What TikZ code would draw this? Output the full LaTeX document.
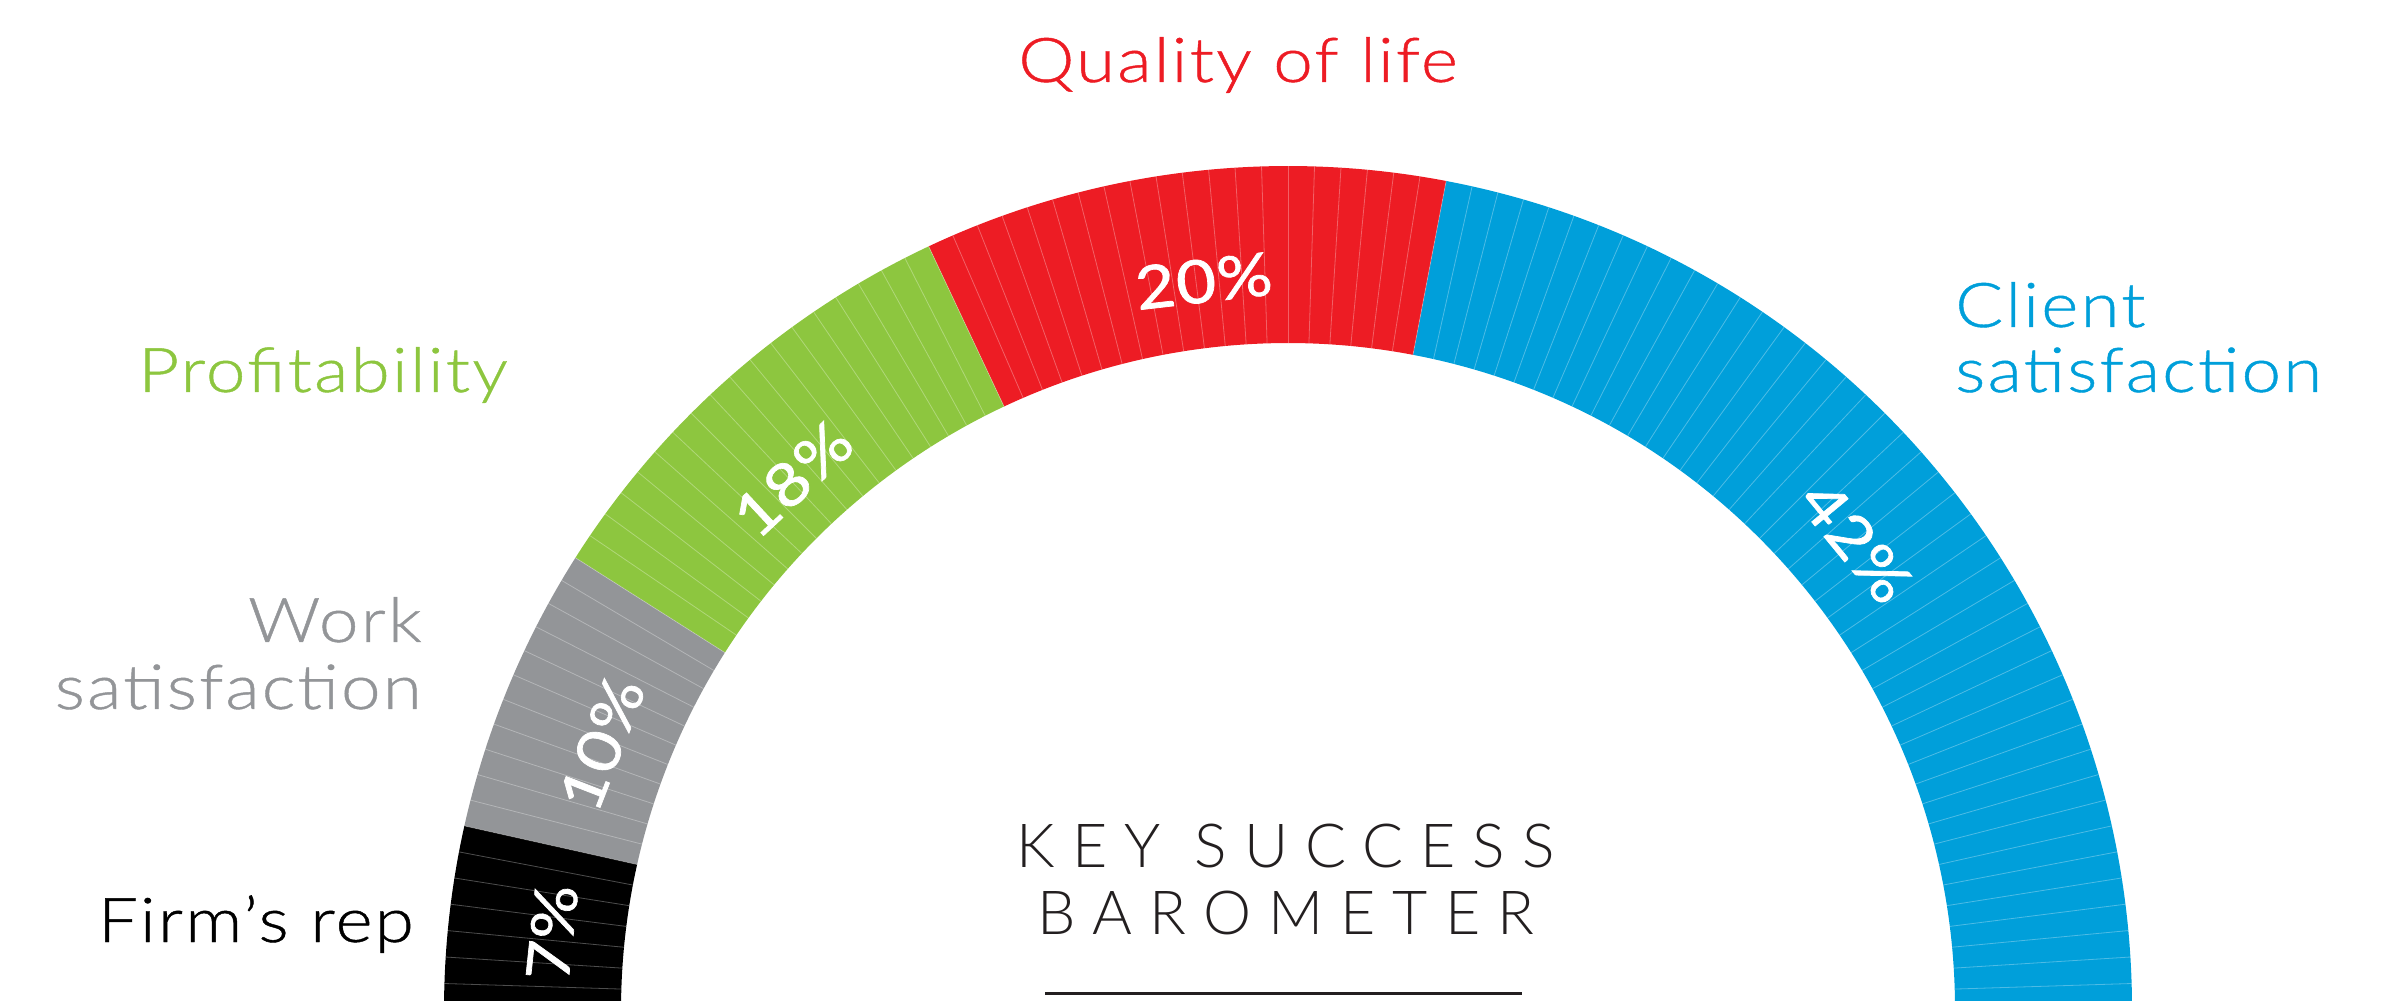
\documentclass[tikz,border=0pt]{standalone}
\usepackage{fontspec}
\setmainfont{Lato}
\newfontfamily\titlefont{Lato Light}[LetterSpace=28]
\newfontfamily\labelfont{Lato Light}[FakeStretch=1.15,LetterSpace=3.5,FakeBold=0.7]
\newfontfamily\pctfont{Lato}[FakeStretch=1.15,LetterSpace=2,FakeBold=1.2]
\definecolor{cblue}{RGB}{0,159,218}
\definecolor{cred}{RGB}{237,28,36}
\definecolor{cgreen}{RGB}{141,198,63}
\definecolor{cgray}{RGB}{147,149,152}
\definecolor{cblack}{RGB}{0,0,0}
\definecolor{cline}{RGB}{35,31,32}
\newcommand\ringseg[3]{\fill[#3] ([shift={(#1:844)}]c) arc (#1:#2:844) -- ([shift={(#2:667)}]c) arc (#2:#1:667) -- cycle;}
\begin{document}
\begin{tikzpicture}[x=1bp,y=1bp,
  lbl/.style={font=\labelfont\fontsize{62}{70}\selectfont, inner sep=0pt},
  pct/.style={font=\pctfont\fontsize{60}{60}\selectfont, text=white, inner sep=0pt},
  ttl/.style={font=\titlefont\fontsize{61}{61}\selectfont, text=cline, inner sep=0pt},
  tick/.style={white, opacity=0.3, line width=0.8bp}]
\useasboundingbox (0,0) rectangle (2383,1000);
\clip (0,0) rectangle (2383,1000);
\coordinate (c) at (1288,-10);
% ring segments
\ringseg{-3}{79.2}{cblue}
\ringseg{79.2}{115.2}{cred}
\ringseg{115.2}{147.6}{cgreen}
\ringseg{147.6}{167.4}{cgray}
\ringseg{167.4}{183}{cblack}
% ticks
\foreach \i in {-1,...,101}{
  \pgfmathsetmacro\a{\i*1.8}
  \draw[tick] ([shift={(\a:667)}]c) -- ([shift={(\a:844)}]c);
}
% percentages
\node[pct, rotate=-50.5] (p42) at ([shift={(39.5:736)}]c) {42\%};
\node[pct, rotate=6.6]   (p20) at ([shift={(96.6:734)}]c) {20\%};
\node[pct, rotate=43]    (p18) at ([shift={(133:726)}]c) {18\%};
\node[pct, rotate=68.8]  (p10) at ([shift={(158.8:736)}]c) {10\%};
\node[pct, rotate=84]    (p7)  at ([shift={(174:740)}]c) {7\%};
% category labels
\node[lbl, text=cred, anchor=base] (qol) at (1238,918) {Quality of life};
\node[lbl, text=cblue, anchor=base west] (cs1) at (1955,673) {Client};
\node[lbl, text=cblue, anchor=base west] (cs2) at (1955,608) {satisfaction};
\node[lbl, text=cgreen, anchor=base west] (pr) at (138,608) {Profitability};
\node[lbl, text=cgray, anchor=base east] (ws1) at (422,358) {Work};
\node[lbl, text=cgray, anchor=base east] (ws2) at (422,291) {satisfaction};
\node[lbl, text=black, anchor=base east] (fr) at (414,58) {Firm’s rep};
% title
\node[ttl, anchor=base] (t1) at (1286,133) {KEY SUCCESS};
\node[ttl, anchor=base] (t2) at (1286,66) {BAROMETER};
\coordinate (l1) at (1045,7);
\coordinate (l2) at (1522,7);
\draw[cline, line width=3bp] (l1) -- (l2);
\end{tikzpicture}
\end{document}
